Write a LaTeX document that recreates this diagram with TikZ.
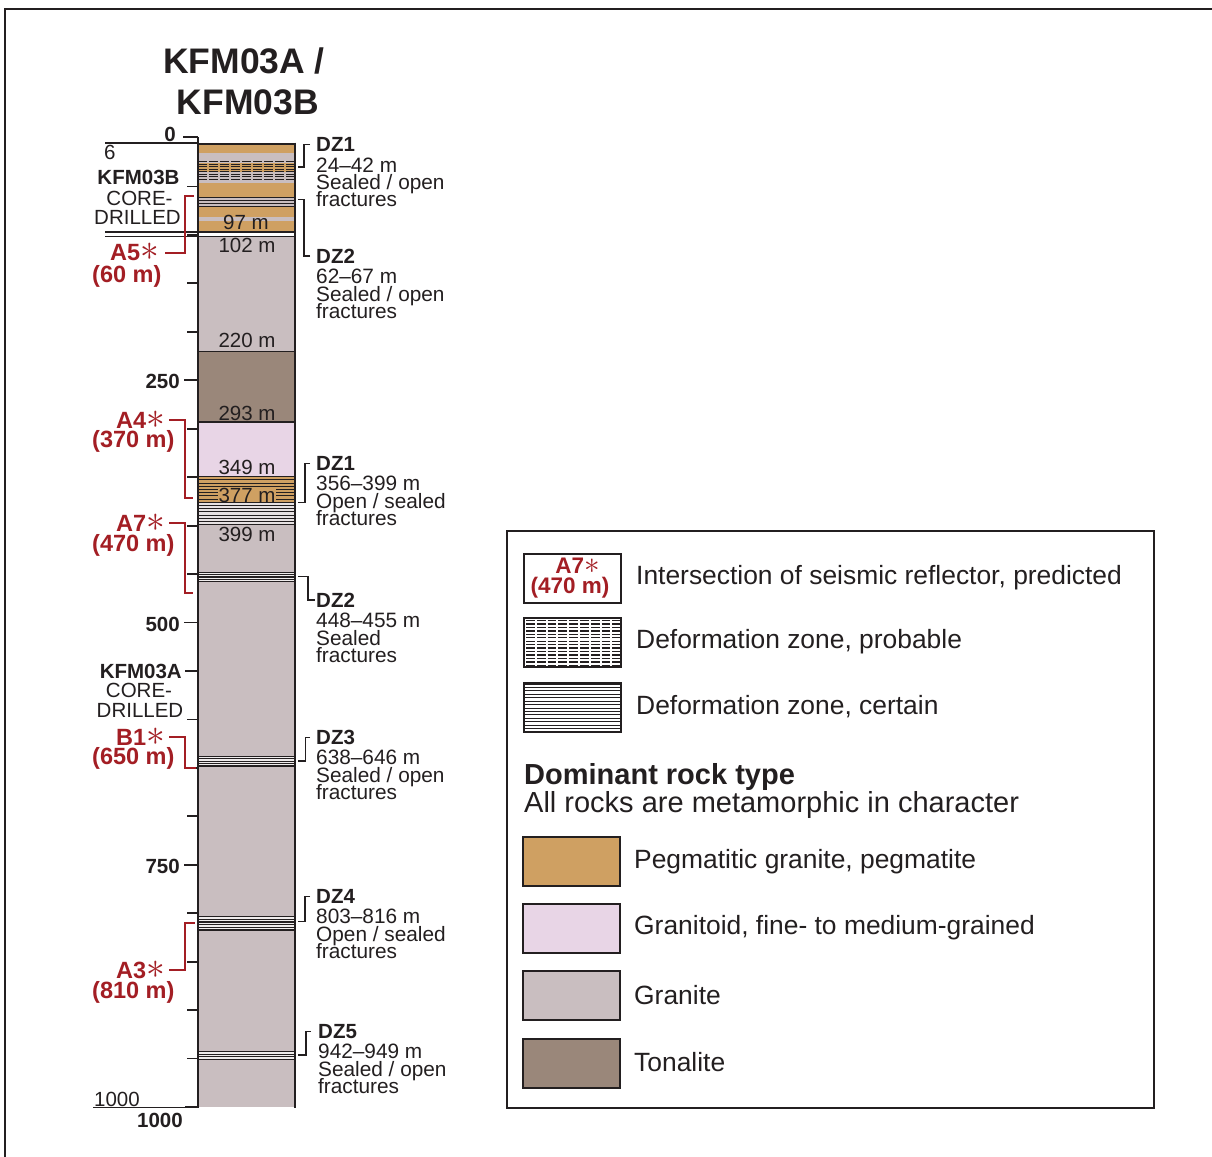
\documentclass[tikz,border=0pt]{standalone}
\usepackage{fontspec}
\setmainfont{Liberation Sans}
\definecolor{peg}{RGB}{207,160,98}
\definecolor{gtoid}{RGB}{232,213,230}
\definecolor{gran}{RGB}{201,190,192}
\definecolor{tona}{RGB}{154,135,122}
\definecolor{redlab}{RGB}{163,30,36}
\definecolor{ink}{RGB}{35,31,32}
\newcommand\fs[1]{\fontsize{#1}{#1}\selectfont}
\newcommand\bigast{\raisebox{0pt}[0pt][0pt]{\scalebox{1.5}{$\ast$}}}
\newcommand\dzlabel[7]{%
  \node[dzhead] (#1h) at (#2,#3) {#4};
  \node[dztext] (#1r) at (#2,{#3+20.5}) {#5};
  \node[dztext] (#1s) at (#2,{#3+38}) {#6};
  \node[dztext] (#1f) at (#2,{#3+55}) {#7};
}
\begin{document}
\begin{tikzpicture}[x=1pt,y=-1pt,
  lab/.style={inner sep=0pt, text=ink, font=\fs{20.5}},
  blab/.style={inner sep=0pt, text=ink, font=\bfseries\fs{20.5}},
  rlab/.style={inner sep=0pt, text=redlab, font=\bfseries\fs{23.5}},
  dzhead/.style={anchor=base west, inner sep=0pt, text=ink, font=\bfseries\fs{20.5}},
  dztext/.style={anchor=base west, inner sep=0pt, text=ink, font=\fs{20.8}},
  legtext/.style={anchor=west, inner sep=0pt, text=ink, font=\fs{26.4}},
  swatch/.style={draw=ink, line width=1.3pt, minimum width=97pt, minimum height=49pt, inner sep=0pt},
  brk/.style={draw=ink, line width=1.3pt},
  rbrk/.style={draw=redlab, line width=1.6pt},
  tick/.style={draw=ink, line width=1.8pt},
  dzline/.style={draw=ink, line width=1.2pt},
  bline/.style={draw=ink, line width=1.3pt},
]
\useasboundingbox (0,0) rectangle (1212,1156);
\fill[white] (0,0) rectangle (1212,1156);
\begin{scope}
\clip (0,0) rectangle (1212,1156);
\draw[ink, line width=2.5pt] (5,1170) -- (5,9) -- (1225,9);
\end{scope}

% title
\node[inner sep=0pt, text=ink, font=\bfseries\fs{35.5}] (title1) at (244,61) {KFM03A /};
\node[inner sep=0pt, text=ink, font=\bfseries\fs{35.5}] (title2) at (248,102) {KFM03B};

% column fills
\fill[gran] (198,143.5) rectangle (295,1107);
\fill[peg] (198,143.5) rectangle (295,153.3);
\fill[peg] (198,163.3) rectangle (295,172.3);
\fill[peg] (198,182.7) rectangle (295,196.7);
\fill[peg] (198,206.7) rectangle (295,216.7);
\fill[peg] (198,221) rectangle (295,231.7);
\fill[white] (198,231.7) rectangle (295,236.3);
\fill[tona] (198,351.2) rectangle (295,422);
\fill[gtoid] (198,422) rectangle (295,476.5);
\fill[peg] (198,476.5) rectangle (295,503.3);
\fill[gran!45!white] (198,503.3) rectangle (295,524.6);

% probable zone (top DZ1)
\foreach \k in {0,...,7}
  \draw[ink, line width=1.4pt, dash pattern=on 9.3pt off 1.7pt] (198,{161.7+\k*2.5}) -- (295,{161.7+\k*2.5});
% certain zones
\foreach \k in {0,...,3}
  \draw[dzline] (198,{197.8+\k*2.8}) -- (295,{197.8+\k*2.8});
\foreach \k in {0,...,15}
  \draw[ink, line width=0.8pt] (198,{476.5+\k*3.2}) -- (295,{476.5+\k*3.2});
\fill[gran!30!white] (198,572.3) rectangle (295,581.7);
\foreach \k in {0,...,4}
  \draw[dzline] (198,{572.3+\k*2.35}) -- (295,{572.3+\k*2.35});
\fill[gran!30!white] (198,756.5) rectangle (295,766);
\foreach \k in {0,...,4}
  \draw[dzline] (198,{756.5+\k*2.375}) -- (295,{756.5+\k*2.375});
\fill[gran!30!white] (198,916.8) rectangle (295,930);
\foreach \k in {0,...,5}
  \draw[dzline] (198,{916.8+\k*2.64}) -- (295,{916.8+\k*2.64});
\fill[gran!30!white] (198,1051.5) rectangle (295,1059.3);
\foreach \k in {0,...,3}
  \draw[dzline] (198,{1051.5+\k*2.6}) -- (295,{1051.5+\k*2.6});

% boundaries
\draw[ink, line width=1.2pt] (198,351.2) -- (295,351.2);
\draw[ink, line width=1.2pt] (198,422) -- (295,422);
\draw[ink, line width=1.2pt] (198,476.5) -- (295,476.5);
\draw[ink, line width=1.2pt] (198,524.6) -- (295,524.6);
\draw[bline] (105,232) -- (295,232);
\draw[bline] (105,236.3) -- (295,236.3);
\draw[bline] (105,143) -- (198,143);
\draw[ink, line width=2pt] (198,143.5) -- (295,143.5);
\draw[bline] (93,1107.5) -- (198,1107.5);

% column borders
\draw[ink, line width=2.8pt] (198,137) -- (198,1108.4);
\draw[ink, line width=2.8pt] (295,142.5) -- (295,1108.4);

% ticks
\foreach \d in {50,100,150,200,300,350,400,450,600,650,700,800,850,900,950}
  \draw[tick] (187,{138+0.969*\d}) -- (198,{138+0.969*\d});
\draw[tick] (183,137) -- (198,137);
\draw[tick] (184,380.3) -- (198,380.3);
\draw[tick] (184,622.5) -- (198,622.5);
\draw[tick] (184,864.8) -- (198,864.8);
\draw[tick] (185,671) -- (198,671);
\draw[tick] (185,1107) -- (198,1107);

% column texts
\node[lab] (t97) at (246,222) {97 m};
\node[lab] (t102) at (247,245) {102 m};
\node[lab] (t220) at (247,340) {220 m};
\node[lab] (t293) at (247,413) {293 m};
\node[lab] (t349) at (247,467) {349 m};
\node[lab, fill=peg, inner xsep=1pt] (t377) at (247,495) {377 m};
\node[lab] (t399) at (247,534) {399 m};

% left labels
\node[blab, anchor=east] (d0) at (176,134) {0};
\node[blab, anchor=east] (d250) at (180,381) {250};
\node[blab, anchor=east] (d500) at (180,624) {500};
\node[blab, anchor=east] (d750) at (180,866) {750};
\node[blab, anchor=east] (d1000) at (183,1120) {1000};
\node[lab, anchor=base west] (b1000) at (94,1106) {1000};
\node[lab, anchor=west] (six) at (104,152.5) {6};
\node[blab] (kb) at (138.5,177) {KFM03B};
\node[lab] (kbc) at (139.5,198.5) {CORE-};
\node[lab] (kbd) at (137.5,217.5) {DRILLED};
\node[blab, anchor=east] (ka) at (182,671) {KFM03A};
\node[lab] (kac) at (139,690.5) {CORE-};
\node[lab] (kad) at (140,710) {DRILLED};

% red labels
\node[rlab, anchor=east] (a5) at (159,253) {A5\bigast};
\node[rlab, anchor=west] (a5m) at (92,276.5) {(60 m)};
\node[rlab, anchor=east] (a4) at (165,420) {A4\bigast};
\node[rlab, anchor=west] (a4m) at (92,441.5) {(370 m)};
\node[rlab, anchor=east] (a7) at (165,523) {A7\bigast};
\node[rlab, anchor=west] (a7m) at (92,545.5) {(470 m)};
\node[rlab, anchor=east] (b1) at (165,737) {B1\bigast};
\node[rlab, anchor=west] (b1m) at (92,758.5) {(650 m)};
\node[rlab, anchor=east] (a3) at (165,970) {A3\bigast};
\node[rlab, anchor=west] (a3m) at (92,992.5) {(810 m)};

\coordinate (ra5) at (194,196);
\coordinate (ra4) at (193,498);
\coordinate (ra7) at (193,593);
\coordinate (rb1) at (196,768);
\coordinate (ra3) at (195,922.7);
\draw[rbrk] ([xshift=6pt]a5.east) -| ([xshift=-9pt]ra5) -- (ra5);
\draw[rbrk] ([xshift=4pt]a4.east) -| ([xshift=-8pt]ra4) -- (ra4);
\draw[rbrk] ([xshift=4pt]a7.east) -| ([xshift=-8pt]ra7) -- (ra7);
\draw[rbrk] ([xshift=4pt]b1.east) -| ([xshift=-11pt]rb1) -- (rb1);
\draw[rbrk] ([xshift=4pt]a3.east) -| ([xshift=-10pt]ra3) -- (ra3);

% DZ labels
\dzlabel{dza}{316}{151.5}{DZ1}{24–42 m}{Sealed / open}{fractures}
\dzlabel{dzb}{316}{263.2}{DZ2}{62–67 m}{Sealed / open}{fractures}
\dzlabel{dzc}{316}{470.2}{DZ1}{356–399 m}{Open / sealed}{fractures}
\dzlabel{dzd}{316}{607.2}{DZ2}{448–455 m}{Sealed}{fractures}
\dzlabel{dze}{316}{744.2}{DZ3}{638–646 m}{Sealed / open}{fractures}
\dzlabel{dzf}{316}{903.2}{DZ4}{803–816 m}{Open / sealed}{fractures}
\dzlabel{dzg}{318}{1038.2}{DZ5}{942–949 m}{Sealed / open}{fractures}

\coordinate (za) at (298,167);
\coordinate (zb) at (298,199.3);
\coordinate (zc) at (298,502.7);
\coordinate (zd) at (298,576.7);
\coordinate (ze) at (298,761);
\coordinate (zf) at (298,921.7);
\coordinate (zg) at (298,1055);
\draw[brk] ([xshift=-6pt]dzah.west) -| ([xshift=6pt]za) -- (za);
\draw[brk] ([xshift=-6pt]dzbh.west) -| ([xshift=6pt]zb) -- (zb);
\draw[brk] ([xshift=-6pt]dzch.west) -| ([xshift=7pt]zc) -- (zc);
\draw[brk] ([xshift=-1.5pt]dzdh.west) -| ([xshift=10pt]zd) -- (zd);
\draw[brk] ([xshift=-6pt]dzeh.west) -| ([xshift=7.5pt]ze) -- (ze);
\draw[brk] ([xshift=-6pt]dzfh.west) -| ([xshift=7pt]zf) -- (zf);
\draw[brk] ([xshift=-7pt]dzgh.west) -| ([xshift=8pt]zg) -- (zg);

% legend
\draw[ink, line width=2pt] (507,531) rectangle (1154,1108);
\node[swatch, fill=white] (lgA) at (572.5,578.5) {};
\node[rlab, font=\bfseries\fs{22.5}] (lgA1) at (577.5,566) {A7\bigast};
\node[rlab, font=\bfseries\fs{22.5}] (lgA2) at (570,588) {(470 m)};
\node[legtext] (lgAt) at (636,578) {Intersection of seismic reflector, predicted};

\node[swatch, fill=white] (lgP) at (572.5,642.5) {};
\begin{scope}
\clip (524,618) rectangle (621,667);
\foreach \k in {0,...,13}
  \draw[ink, line width=1.3pt, dash pattern=on 8.8pt off 2pt] (526,{620.5+\k*3.45}) -- (621,{620.5+\k*3.45});
\end{scope}
\draw[ink, line width=1.3pt] (524,618) rectangle (621,667);
\node[legtext] (lgPt) at (636,642) {Deformation zone, probable};

\node[swatch, fill=white] (lgC) at (572.5,707.5) {};
\foreach \k in {0,...,14}
  \draw[ink, line width=0.9pt] (524,{684+\k*3.43}) -- (621,{684+\k*3.43});
\draw[ink, line width=1.3pt] (524,683) rectangle (621,732);
\node[legtext] (lgCt) at (636,707) {Deformation zone, certain};

\node[legtext, font=\bfseries\fs{29}] (lgH) at (524,777) {Dominant rock type};
\node[legtext, font=\fs{29}] (lgH2) at (524,805) {All rocks are metamorphic in character};

\node[swatch, fill=peg] (sw1) at (571.5,861.5) {};
\node[legtext] (sw1t) at (634,862) {Pegmatitic granite, pegmatite};
\node[swatch, fill=gtoid] (sw2) at (571.5,928.5) {};
\node[legtext] (sw2t) at (634,928) {Granitoid, fine- to medium-grained};
\node[swatch, fill=gran] (sw3) at (571.5,995.5) {};
\node[legtext] (sw3t) at (634,995) {Granite};
\node[swatch, fill=tona] (sw4) at (571.5,1063.5) {};
\node[legtext] (sw4t) at (634,1062) {Tonalite};
\end{tikzpicture}
\end{document}
